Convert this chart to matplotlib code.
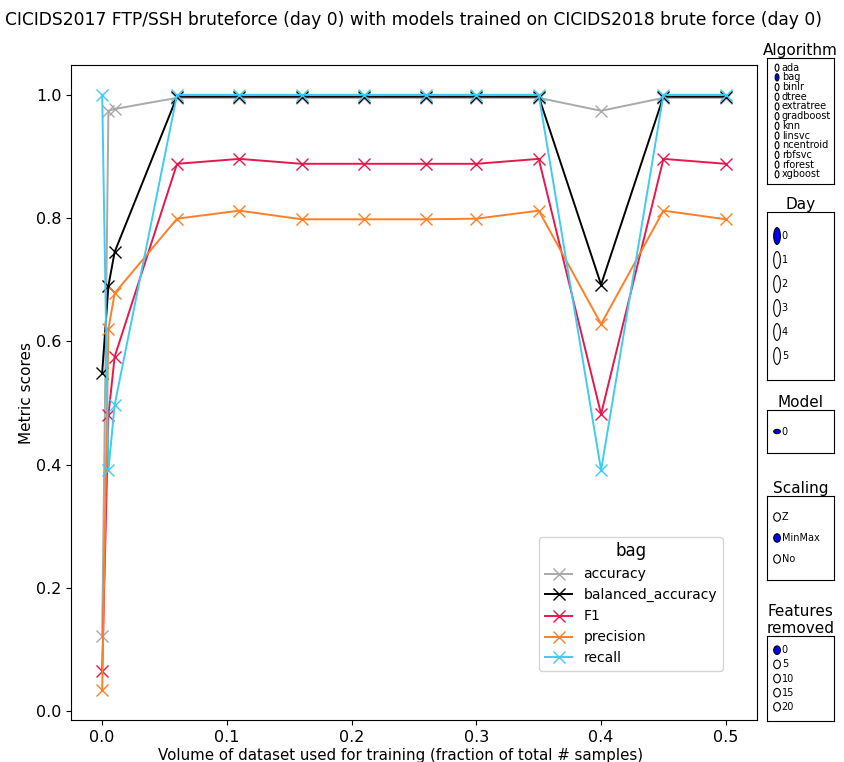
import matplotlib
matplotlib.use("Agg")
import matplotlib.pyplot as plt
from matplotlib.patches import Circle

# training volume (fraction of total samples)
volume = [0.0, 0.005, 0.01, 0.06, 0.11, 0.16, 0.21, 0.26, 0.30, 0.35, 0.40, 0.45, 0.50]

accuracy = [0.122, 0.974, 0.977, 0.995, 0.995, 0.995, 0.995, 0.995, 0.995, 0.995, 0.974, 0.995, 0.995]
balanced_accuracy = [0.549, 0.690, 0.745, 0.997, 0.997, 0.997, 0.997, 0.997, 0.997, 0.997, 0.692, 0.997, 0.997]
f1 = [0.065, 0.480, 0.575, 0.888, 0.896, 0.888, 0.888, 0.888, 0.888, 0.896, 0.482, 0.896, 0.888]
precision = [0.034, 0.620, 0.678, 0.799, 0.812, 0.798, 0.798, 0.798, 0.799, 0.812, 0.628, 0.812, 0.798]
recall = [1.000, 0.391, 0.497, 1.000, 1.000, 1.000, 1.000, 1.000, 1.000, 1.000, 0.391, 1.000, 1.000]

metric_names = ["accuracy", "balanced_accuracy", "F1", "precision", "recall"]
metric_colors = ["#a9a9a9", "#000000", "#e8174b", "#ff7f27", "#3ecbf4"]

algorithms = ["ada", "bag", "binlr", "dtree", "extratree", "gradboost", "knn",
              "linsvc", "ncentroid", "rbfsvc", "rforest", "xgboost"]
days = ["0", "1", "2", "3", "4", "5"]
models = ["0"]
scalings = ["Z", "MinMax", "No"]
features_removed = ["0", "5", "10", "15", "20"]

W, H = 844, 762


def px_axes(fig, x0, y0, x1, y1):
    return fig.add_axes([x0 / W, 1 - y1 / H, (x1 - x0) / W, (y1 - y0) / H])


def radio_panel(ax, labels, active, title):
    # old-style radio selector: circles in axes coords (drawn as ellipses)
    ax.set_xticks([])
    ax.set_yticks([])
    ax.set_xlim(0, 1)
    ax.set_ylim(0, 1)
    dy = 1.0 / (len(labels) + 1)
    radius = min(dy / 2 - 0.01, 0.05)
    for i, lab in enumerate(labels):
        y = 1 - dy * (i + 1)
        face = "blue" if i == active else "white"
        ax.add_patch(Circle((0.15, y), radius, transform=ax.transAxes,
                            facecolor=face, edgecolor="black", linewidth=0.8))
        ax.text(0.22, y, lab, transform=ax.transAxes, ha="left", va="center", fontsize=7)
    ax.set_title(title, fontsize=11, pad=2)


fig = plt.figure(figsize=(W / 100, H / 100), dpi=100)
ax = px_axes(fig, 71, 65, 757, 720)

series = [accuracy, balanced_accuracy, f1, precision, recall]
for name, vals, col in zip(metric_names, series, metric_colors):
    ax.plot(volume, vals, color=col, marker="x", markersize=9, linewidth=1.4, label=name)

ax.set_xlabel("Volume of dataset used for training (fraction of total # samples)", fontsize=10.8)
ax.xaxis.set_label_coords(0.48, -0.043)
ax.set_ylabel("Metric scores", fontsize=11, labelpad=1)
ax.tick_params(labelsize=11.5)
ax.set_xticks([0.0, 0.1, 0.2, 0.3, 0.4, 0.5])
ax.legend(title="bag", fontsize=10, title_fontsize=12, loc="lower right",
          bbox_to_anchor=(0.950, 0.075), borderaxespad=0)

fig.text(0.4905, 0.974, "CICIDS2017 FTP/SSH bruteforce (day 0) with models trained on "
         "CICIDS2018 brute force (day 0)", ha="center", va="center", fontsize=12.3)

radio_panel(px_axes(fig, 767, 58, 834, 184), algorithms, 1, "Algorithm")
radio_panel(px_axes(fig, 767, 212, 834, 380), days, 0, "Day")
radio_panel(px_axes(fig, 767, 410, 834, 453), models, 0, "Model")
radio_panel(px_axes(fig, 767, 496, 834, 580), scalings, 1, "Scaling")
radio_panel(px_axes(fig, 767, 636, 834, 721), features_removed, 0, "Features\nremoved")

fig.savefig("out.png", dpi=100)
